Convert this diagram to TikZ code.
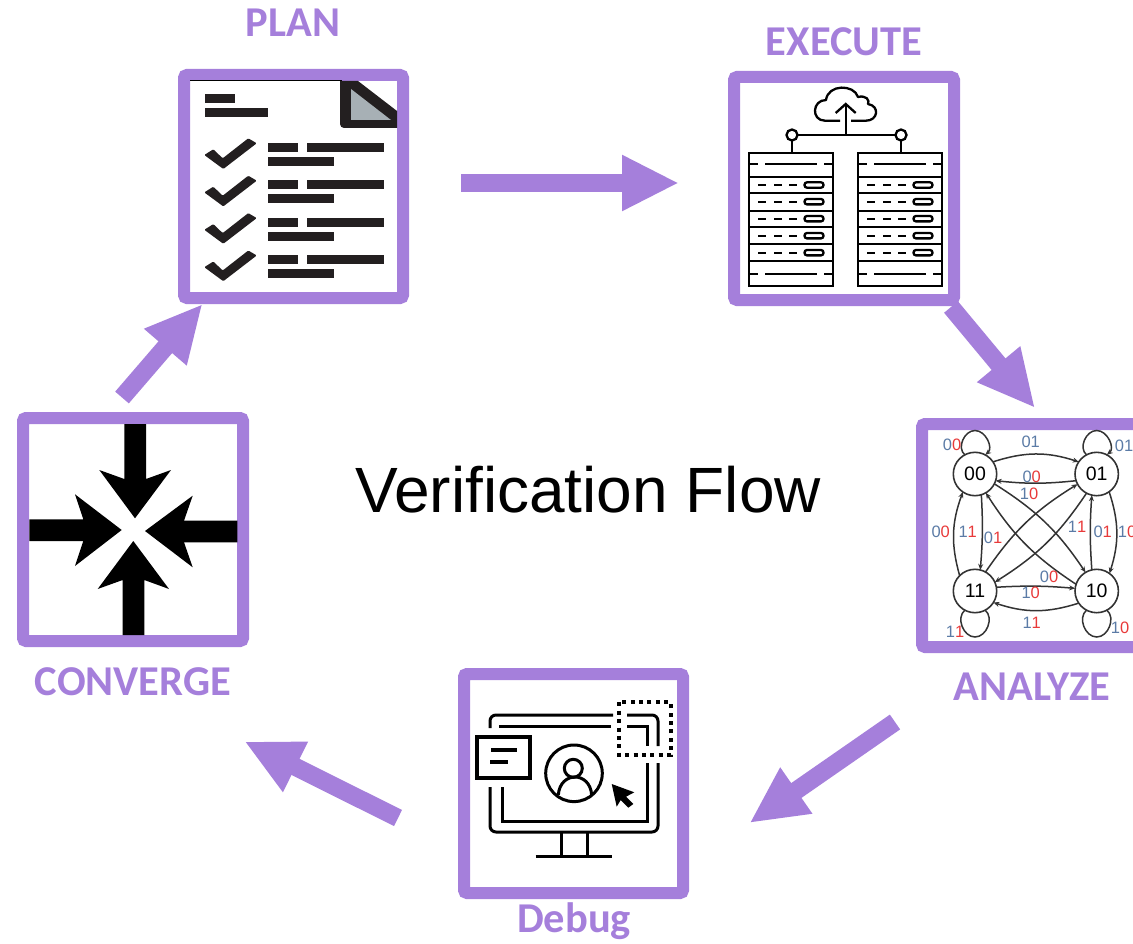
\documentclass[tikz,border=0pt]{standalone}
\usepackage{fontspec}
\setmainfont{Liberation Sans}
\newfontfamily\stagefont{Carlito}
\usetikzlibrary{arrows.meta}
\definecolor{flowpurple}{HTML}{A57FDB}
\definecolor{inkblack}{HTML}{231F20}
\definecolor{foldgray}{HTML}{A7B0B5}
\definecolor{bitblue}{HTML}{5B7BA6}
\definecolor{bitred}{HTML}{E83A3A}
\newcommand{\bits}[2]{{\color{bitblue}#1}{\color{bitred}#2}}
\newcommand{\bitsb}[2]{{\color{bitblue}#1#2}}
\begin{document}
\begin{tikzpicture}
        [x=1pt, y=-1pt,
        stagebox/.style={draw=flowpurple, line width=12pt, rounded corners=3pt, outer sep=0pt, inner sep=0pt},
        stage/.style={text=flowpurple, font=\stagefont\bfseries\fontsize{42.5}{46}\selectfont},
        flow/.style={draw=flowpurple, line width=18pt, -{Triangle[length=57pt,width=52pt]}},
        state/.style={circle, draw=black!80, line width=1.6pt, minimum size=43.4pt, inner sep=0pt, outer sep=0pt, font=\fontsize{19.5}{22}\selectfont},
        trans/.style={draw=black!80, line width=1.5pt, -{Stealth[length=6pt,width=5pt]}},
        bit/.style={font=\fontsize{16.5}{18}\selectfont, inner sep=0pt},
        icon/.style={draw=black, line width=2.3pt},
        bar/.style={fill=inkblack}]

        \clip (0,0) rectangle (1133,944);

        % stage boxes
        \node[stagebox, minimum width=219pt, minimum height=223pt] (plan) at (293.5,186.5) {};
        \node[stagebox, minimum width=220pt, minimum height=223pt] (execute) at (844,188.5) {};
        \node[stagebox, minimum width=220pt, minimum height=223pt] (analyze) at (1032,535.5) {};
        \node[stagebox, minimum width=219pt, minimum height=219pt] (debug) at (573.5,783.5) {};
        \node[stagebox, minimum width=220pt, minimum height=223pt] (converge) at (133,529.5) {};

        % stage names
        \node[stage] (planname) at (293,23) {PLAN};
        \node[stage] (executename) at (844,42) {EXECUTE};
        \node[stage] (analyzename) at (1032,687) {ANALYZE};
        \node[stage] (debugname) at (574,921) {Debug};
        \node[stage] (convergename) at (133,682) {CONVERGE};
        \node[font=\fontsize{64}{70}\selectfont] (title) at (588,490) {Verification Flow};

        % flow arrows
        \draw[flow] ([shift={(58,-3.5)}]plan.east) -- ([shift={(-55,-5.5)}]execute.west);
        \draw[flow] ([shift={(-3,7)}]execute.south east) -- ([shift={(3,-16)}]analyze.north);
        \draw[flow] ([shift={(-27,75)}]analyze.south west) -- ([shift={(66.5,39.5)}]debug.east);
        \draw[flow] ([shift={(-66,34.5)}]debug.west) -- ([shift={(1.5,100.5)}]converge.south east);
        \draw[flow] ([shift={(-11,-20.5)}]converge.north) -- ([shift={(18.5,6)}]plan.south west);

        % plan icon
        \draw[black, line width=1pt] (190,81) -- (342,81);
        \fill[inkblack] (340,81) -- (358,81) -- (397,111) -- (397,128) [rounded corners=4pt] -- (340,128) [sharp corners] -- cycle;
        \fill[foldgray] (351,89) -- (391,120) -- (351,120) -- cycle;
        \fill[bar] (205,94) rectangle (235,103);
        \fill[bar] (205,108) rectangle (268,117);
        \foreach \row in {0,37.4,74.8,112.2} {
            \fill[bar] (268,143+\row) rectangle (298,152+\row);
            \fill[bar] (307,143+\row) rectangle (384,152+\row);
            \fill[bar] (268,157+\row) rectangle (334,166+\row);
            \fill[inkblack, rounded corners=1pt] (204.3,155+\row) -- (213.3,149.3+\row) -- (222.7,158.3+\row) -- (248.3,138.3+\row) -- (256.7,143.3+\row) -- (223.3,169+\row) -- cycle;
        }

        % execute icon
        \draw[icon, line join=round] (840,120.7) -- (825,120.7) .. controls (811,120.7) and (812,100) .. (826,100) .. controls (828,84) and (854,84) .. (858,97) .. controls (866,95) and (870,100) .. (868,104) .. controls (880,106) and (878,120.7) .. (866,120.7) -- (851,120.7);
        \draw[icon] (845.7,135) -- (845.7,104);
        \draw[icon] (835.7,113) -- (845.7,104) -- (855.7,113);
        \draw[icon] (797.5,135) -- (895.5,135);
        \foreach \dx in {0,109} {
            \draw[icon] (792+\dx,135) circle (5.5);
            \draw[icon] (792+\dx,140.5) -- (792+\dx,153);
            \draw[icon] (749.3+\dx,153.3) rectangle (833.3+\dx,285.7);
            \foreach \ly in {176.7,193.3,210.7,227.3,244,261}
                \draw[icon] (749.3+\dx,\ly) -- (833.3+\dx,\ly);
            \foreach \ly in {164.3,274.3} {
                \draw[icon] (749.3+\dx,\ly) -- (758+\dx,\ly);
                \draw[icon] (765+\dx,\ly) -- (817+\dx,\ly);
                \draw[icon] (824+\dx,\ly) -- (833.3+\dx,\ly);
            }
            \foreach \ly in {185,201.7,218.7,235.7,252.7} {
                \draw[icon] (758.3+\dx,\ly) -- (766+\dx,\ly);
                \draw[icon] (774+\dx,\ly) -- (781.7+\dx,\ly);
                \draw[icon] (789+\dx,\ly) -- (796.7+\dx,\ly);
                \draw[icon, rounded corners=2.5pt] (804.5+\dx,\ly-2.7) rectangle (823.5+\dx,\ly+2.7);
            }
        }

        % analyze icon
        \node[state] (n00) at (975,474) {00};
        \node[state] (n01) at (1096.7,474) {01};
        \node[state] (n11) at (975,591) {11};
        \node[state] (n10) at (1096.7,591) {10};

        % loop tops
        \coordinate (l00) at (975,430.5);
        \coordinate (l01) at (1096.7,430.5);
        \coordinate (l11) at (975,637);
        \coordinate (l10) at (1096.7,637);

        \draw[trans] (n00.118) to[out=140, in=180, looseness=1.05] (l00) to[out=0, in=40, looseness=1.05] (n00.62);
        \draw[trans] (n01.118) to[out=140, in=180, looseness=1.05] (l01) to[out=0, in=40, looseness=1.05] (n01.62);
        \draw[trans, -] (n11.-118) to[out=-140, in=180, looseness=1.05] (l11) to[out=0, in=-40, looseness=1.05] (n11.-62);
        \draw[trans, -] (n10.-118) to[out=-140, in=180, looseness=1.05] (l10) to[out=0, in=-40, looseness=1.05] (n10.-62);

        \draw[trans] (n00.34) to[bend left=18] (n01.146);
        \draw[trans] (n01.198) to[bend left=6] (n00.-18);
        \draw[trans] (n11.10) to[bend left=4] (n10.173);
        \draw[trans] (n10.214) to[bend left=18] (n11.-32);
        \draw[trans] (n11.135) to[bend left=18] (n00.-124);
        \draw[trans] (n00.-73) to[bend left=4] (n11.76);
        \draw[trans] (n10.103) to[bend left=4] (n01.-103);
        \draw[trans] (n01.-55) to[bend left=18] (n10.54);
        \draw[trans] (n00.-27) to[bend left=12] (n10.121);
        \draw[trans] (n10.162) to[bend left=12] (n00.-60);
        \draw[trans] (n11.61) to[bend left=12] (n01.208);
        \draw[trans] (n01.-118) to[bend left=12] (n11.24);

        \node[bit] (b1) at (952,445) {\bits{0}{0}};
        \node[bit] (b2) at (1030.7,442) {\bitsb{0}{1}};
        \node[bit] (b3) at (1124,446) {\bitsb{0}{1}};
        \node[bit] (b4) at (1031.7,476.7) {\bits{0}{0}};
        \node[bit] (b5) at (1029,494) {\bits{1}{0}};
        \node[bit] (b6) at (940.7,532) {\bits{0}{0}};
        \node[bit] (b7) at (967.7,532) {\bits{1}{1}};
        \node[bit] (b8) at (993,538) {\bits{0}{1}};
        \node[bit] (b9) at (1077,526.7) {\bits{1}{1}};
        \node[bit] (b10) at (1102.7,532) {\bits{0}{1}};
        \node[bit] (b11) at (1127,532) {\bits{1}{0}};
        \node[bit] (b12) at (1049,576.7) {\bits{0}{0}};
        \node[bit] (b13) at (1030.7,593) {\bits{1}{0}};
        \node[bit] (b14) at (1031.7,622.7) {\bits{1}{1}};
        \node[bit] (b15) at (955,631.7) {\bits{1}{1}};
        \node[bit] (b16) at (1120,628) {\bits{1}{0}};

        % debug icon
        \draw[icon, line width=3pt, rounded corners=6pt] (490,728) -- (490,715) -- (613,715);
        \draw[icon, line width=3pt, rounded corners=6pt] (627,715) -- (658,715) -- (658,746);
        \draw[icon, line width=3pt, rounded corners=6pt] (658,763) -- (658,832) -- (490,832) -- (490,787);
        \draw[icon, line width=3pt] (499,726) -- (611,726);
        \draw[icon, line width=3pt] (627,726) -- (647,726) -- (647,746);
        \draw[icon, line width=3pt] (647,763) -- (647,821) -- (502,821) -- (502,787);
        \draw[black, line width=4pt, dash pattern=on 4pt off 4.4pt] (619,702.3) rectangle (670.7,755);
        \draw[icon, line width=4pt] (477.3,736.7) rectangle (530,778.3);
        \draw[icon, line width=4pt] (491,750) -- (516.7,750);
        \draw[icon, line width=4pt] (490,762.3) -- (508,762.3);
        \draw[icon, line width=3pt] (574,773.3) circle (28.3);
        \draw[icon, line width=3pt] (573.3,768.3) circle (9);
        \draw[icon, line width=3pt] (558.3,795) .. controls (560,771) and (590,771) .. (591.7,795);
        \fill[black] (611.7,784) -- (634.3,792.3) -- (626,796.7) -- (633.3,804) -- (628.3,807.7) -- (620.7,800) -- (616.7,806.7) -- cycle;
        \draw[icon, line width=3pt] (561.7,832.7) -- (561.7,856.7);
        \draw[icon, line width=3pt] (587.3,832.7) -- (587.3,856.7);
        \draw[icon, line width=3.5pt] (535.7,856.7) -- (612.3,856.7);

        % converge icon
        \fill[black] (124.3,424) -- (146,424) -- (146,479) -- (171,470) -- (135,518.3) -- (99.3,470) -- (124.3,479) -- cycle;
        \fill[black] (29.3,519.3) -- (83.3,519.3) -- (75,494.3) -- (121.7,530) -- (75,566) -- (83.3,541) -- (29.3,541) -- cycle;
        \fill[black] (237.3,520.7) -- (184,520.7) -- (192.7,495.7) -- (145,531) -- (192.7,567.3) -- (184,542.3) -- (237.3,542.3) -- cycle;
        \fill[black] (122.7,635) -- (144.3,635) -- (144.3,580) -- (169,589) -- (133.3,541) -- (97.7,589) -- (122.7,580) -- cycle;

    \end{tikzpicture}
\end{document}
